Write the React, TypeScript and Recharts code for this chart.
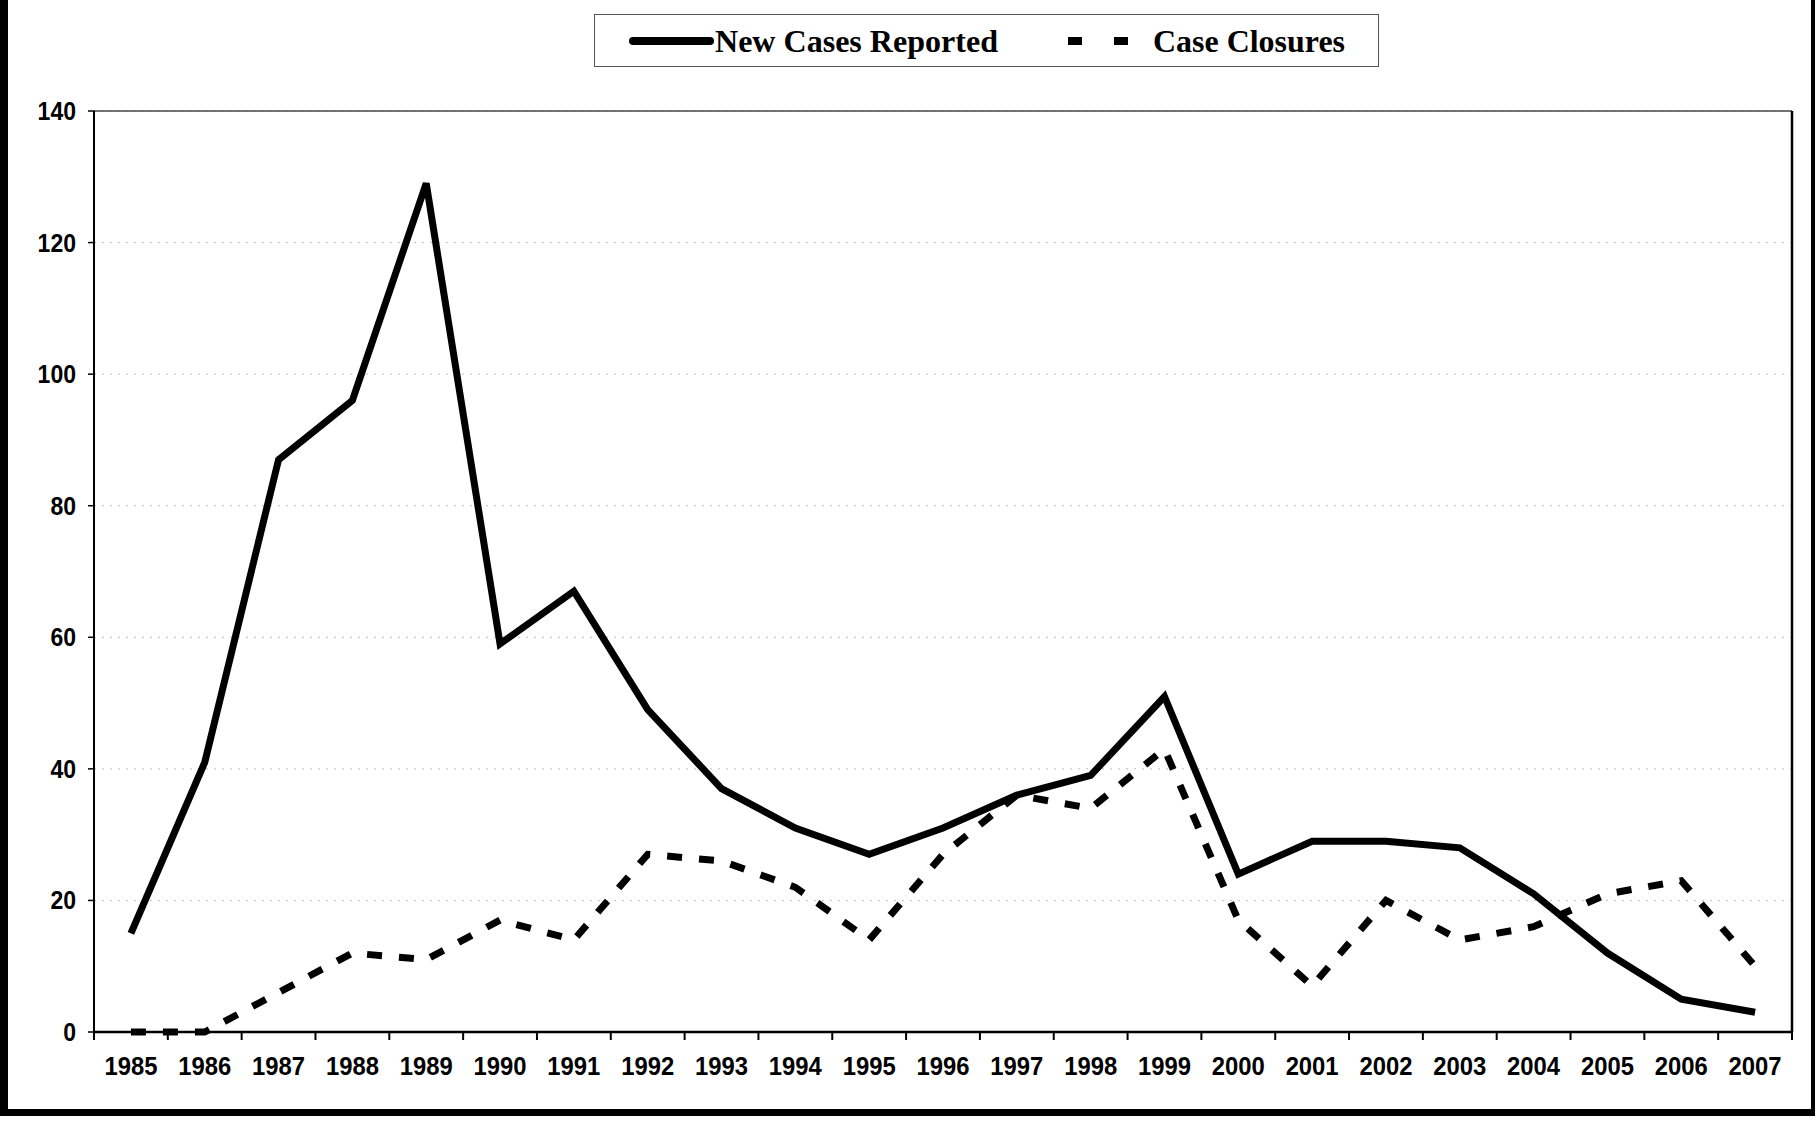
import { LineChart, Line, XAxis, YAxis, CartesianGrid, ReferenceLine } from "recharts";

const years = [
  "1985", "1986", "1987", "1988", "1989", "1990", "1991", "1992", "1993", "1994", "1995", "1996",
  "1997", "1998", "1999", "2000", "2001", "2002", "2003", "2004", "2005", "2006", "2007",
];
const newCases = [15, 41, 87, 96, 129, 59, 67, 49, 37, 31, 27, 31, 36, 39, 51, 24, 29, 29, 28, 21, 12, 5, 3];
const closures = [0, 0, 6, 12, 11, 17, 14, 27, 26, 22, 14, 27, 36, 34, 43, 17, 7, 20, 14, 16, 21, 23, 10];
const yTicks = [0, 20, 40, 60, 80, 100, 120, 140];

const W = 1817;
const H = 1121;
const PLOT_LEFT = 94;
const PLOT_RIGHT = 1792;
const PLOT_TOP = 111;
const PLOT_BOTTOM = 1032;
const BAND = (PLOT_RIGHT - PLOT_LEFT) / years.length;

const data = years.map((y, i) => ({ idx: i, year: y, newCases: newCases[i], closures: closures[i] }));

const sans = "'Liberation Sans', Arial, sans-serif";
const serif = "'Liberation Serif', 'Times New Roman', serif";

function XTick(props: any) {
  const { x, y, payload } = props;
  const i = payload.value;
  return (
    <g>
      <line x1={x - BAND / 2} x2={x - BAND / 2} y1={y} y2={y + 8} stroke="#000" strokeWidth={2} />
      {i === years.length - 1 && (
        <line x1={x + BAND / 2} x2={x + BAND / 2} y1={y} y2={y + 8} stroke="#000" strokeWidth={2} />
      )}
      <text
        x={x}
        y={y + 43}
        textAnchor="middle"
        fontFamily={sans}
        fontWeight="bold"
        fontSize={26}
        textLength={53}
        lengthAdjust="spacingAndGlyphs"
        fill="#000"
      >
        {years[i]}
      </text>
    </g>
  );
}

function YTick(props: any) {
  const { x, y, payload } = props;
  const s = String(payload.value);
  return (
    <text
      x={x}
      y={y + 9}
      textAnchor="end"
      fontFamily={sans}
      fontWeight="bold"
      fontSize={26}
      textLength={s.length * 12.8}
      lengthAdjust="spacingAndGlyphs"
      fill="#000"
    >
      {s}
    </text>
  );
}

function LegendBox() {
  return (
    <div
      style={{
        position: "absolute",
        left: 594,
        top: 14,
        width: 785,
        height: 53,
        border: "1.5px solid #555",
        boxSizing: "border-box",
        background: "#fff",
      }}
    >
      <svg width={785} height={53} style={{ position: "absolute", left: 0, top: 0 }}>
        <line x1={38} x2={115} y1={26} y2={26} stroke="#000" strokeWidth={8} strokeLinecap="round" />
        <line x1={473} x2={536} y1={26} y2={26} stroke="#000" strokeWidth={8} strokeDasharray="14 32" />
        <text x={120} y={37} fontFamily={serif} fontWeight="bold" fontSize={32} textLength={283} lengthAdjust="spacingAndGlyphs">
          New Cases Reported
        </text>
        <text x={558} y={37} fontFamily={serif} fontWeight="bold" fontSize={32} textLength={192} lengthAdjust="spacingAndGlyphs">
          Case Closures
        </text>
      </svg>
    </div>
  );
}

export default function App() {
  return (
    <div style={{ position: "fixed", left: 0, top: 0, width: W, height: H, background: "#fff" }}>
      <div
        style={{
          position: "absolute",
          left: 0,
          top: 0,
          width: 1815,
          height: 1116,
          borderLeft: "8px solid #000",
          borderRight: "4px solid #000",
          borderBottom: "7px solid #000",
          boxSizing: "border-box",
        }}
      />
      <div style={{ position: "absolute", left: 0, top: 0 }}>
        <LineChart
          width={W}
          height={H}
          data={data}
          margin={{ top: PLOT_TOP, right: W - PLOT_RIGHT, bottom: H - PLOT_BOTTOM - 50, left: 0 }}
        >
          <CartesianGrid horizontal vertical={false} stroke="#bdbdbd" strokeDasharray="2 6" strokeWidth={1} />
          <XAxis
            dataKey="idx"
            type="number"
            domain={[-0.5, years.length - 0.5]}
            ticks={years.map((_, i) => i)}
            interval={0}
            height={50}
            tickSize={0}
            tickMargin={0}
            tickLine={false}
            axisLine={{ stroke: "#000", strokeWidth: 2.5 }}
            tick={<XTick />}
          />
          <YAxis
            type="number"
            domain={[0, 140]}
            ticks={yTicks}
            width={PLOT_LEFT}
            tickSize={6}
            tickMargin={12}
            tickLine={{ stroke: "#000", strokeWidth: 1.5 }}
            axisLine={{ stroke: "#000", strokeWidth: 2 }}
            tick={<YTick />}
          />
          <ReferenceLine y={140} stroke="#444" strokeWidth={1.5} />
          <ReferenceLine x={years.length - 0.5} stroke="#000" strokeWidth={2.5} />
          <Line
            dataKey="newCases"
            name="New Cases Reported"
            stroke="#000"
            strokeWidth={7}
            dot={false}
            activeDot={false}
            isAnimationActive={false}
          />
          <Line
            dataKey="closures"
            name="Case Closures"
            stroke="#000"
            strokeWidth={7}
            strokeDasharray="15 17"
            dot={false}
            activeDot={false}
            isAnimationActive={false}
          />
        </LineChart>
      </div>
      <LegendBox />
    </div>
  );
}
